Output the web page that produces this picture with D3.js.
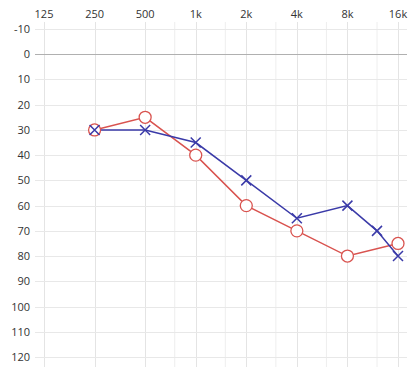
<!DOCTYPE html>
<html><head><meta charset="utf-8">
<script src="https://cdn.jsdelivr.net/npm/d3@7"></script>
<style>body{margin:0;background:#fff}svg{display:block}text{font-family:"Open Sans","Noto Sans",sans-serif}</style>
</head><body><svg id="c" width="418" height="375"></svg>
<script>
const freqTicks = [125, 250, 500, 1000, 2000, 4000, 8000, 16000];
const freqLabels = ["125", "250", "500", "1k", "2k", "4k", "8k", "16k"];
const minorFreqs = [750, 1500, 3000, 6000, 12000];
const dbTicks = [-10, 0, 10, 20, 30, 40, 50, 60, 70, 80, 90, 100, 110, 120];
const rightFreqs = [250, 500, 1000, 2000, 4000, 8000, 16000];
const rightDb = [30, 25, 40, 60, 70, 80, 75];
const leftFreqs = [250, 500, 1000, 2000, 4000, 8000, 12000, 16000];
const leftDb = [30, 30, 35, 50, 65, 60, 70, 80];

const svg = d3.select("#c");
const x = d3.scaleLog().base(2).domain([125, 16000]).range([44, 398]);
const y = d3.scaleLinear().domain([-10, 120]).range([29, 357]);
const gx0 = 35, gx1 = 407, gy0 = 22, gy1 = 367;

const grid = svg.append("g");
grid.selectAll(".vmin").data(minorFreqs).join("line")
  .attr("x1", d => x(d)).attr("x2", d => x(d)).attr("y1", gy0).attr("y2", gy1)
  .attr("stroke", "#eeeeee").attr("stroke-width", 1);
grid.selectAll(".v").data(freqTicks).join("line")
  .attr("x1", d => Math.round(x(d)) + 0.5).attr("x2", d => Math.round(x(d)) + 0.5).attr("y1", gy0).attr("y2", gy1)
  .attr("stroke", "#e4e4e4").attr("stroke-width", 1);
grid.selectAll(".h").data(dbTicks).join("line")
  .attr("x1", gx0).attr("x2", gx1).attr("y1", d => Math.round(y(d)) + 0.5).attr("y2", d => Math.round(y(d)) + 0.5)
  .attr("stroke", d => d === 0 ? "#b0b0b0" : "#e8e8e8").attr("stroke-width", 1);

svg.append("g").selectAll("text").data(freqTicks).join("text")
  .attr("x", d => x(d)).attr("y", 18).attr("text-anchor", "middle")
  .attr("font-size", 11).attr("fill", "#333").text((d, i) => freqLabels[i]);
svg.append("g").selectAll("text").data(dbTicks).join("text")
  .attr("x", 30).attr("y", d => y(d) + 4).attr("text-anchor", "end")
  .attr("font-size", 11).attr("fill", "#333").text(d => d);

const line = d3.line().x(d => x(d[0])).y(d => y(d[1]));
const rData = rightFreqs.map((f, i) => [f, rightDb[i]]);
const lData = leftFreqs.map((f, i) => [f, leftDb[i]]);
const red = "#d9534f", blue = "#3a3aa8";

svg.append("path").datum(rData).attr("d", line).attr("fill", "none").attr("stroke", red).attr("stroke-width", 1.5);
svg.append("path").datum(lData).attr("d", line).attr("fill", "none").attr("stroke", blue).attr("stroke-width", 1.5);

svg.append("g").selectAll("circle").data(rData).join("circle")
  .attr("cx", d => x(d[0])).attr("cy", d => y(d[1])).attr("r", 6)
  .attr("fill", "#fff").attr("stroke", red).attr("stroke-width", 1.3);

const s = 5;
const xs = svg.append("g").selectAll("path").data(lData).join("path")
  .attr("d", d => { const cx = x(d[0]), cy = y(d[1]); return `M${cx-s},${cy-s}L${cx+s},${cy+s}M${cx-s},${cy+s}L${cx+s},${cy-s}`; })
  .attr("stroke", blue).attr("stroke-width", 1.5).attr("fill", "none");
</script></body></html>
